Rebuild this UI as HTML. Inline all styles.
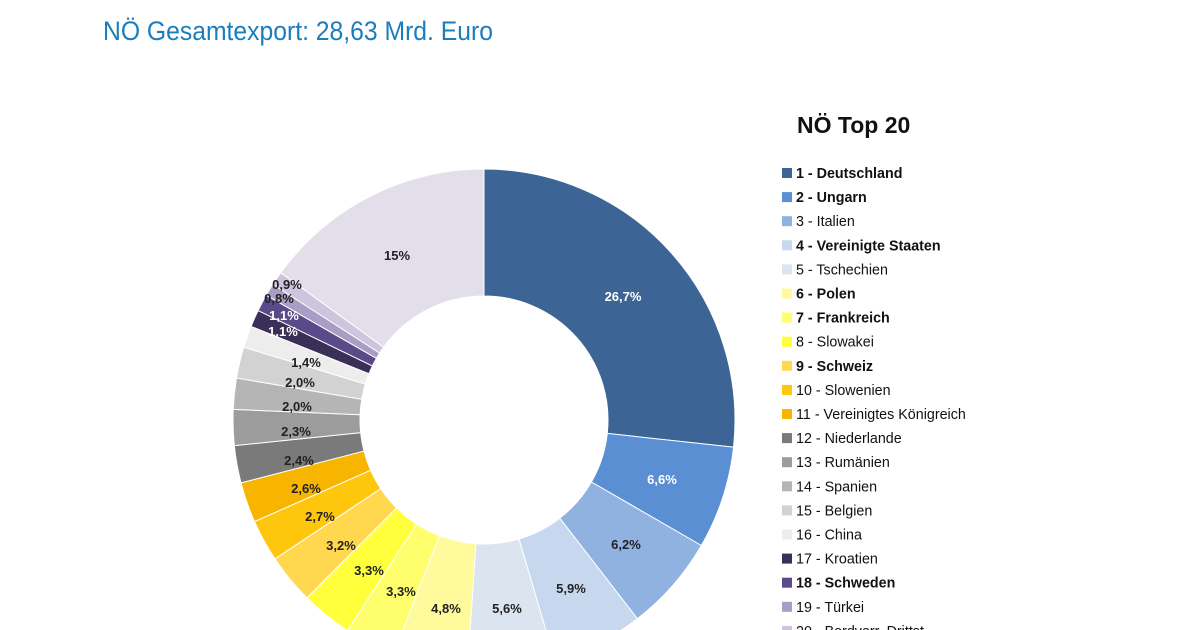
<!DOCTYPE html>
<html><head><meta charset="utf-8"><style>
body{margin:0;background:#fff;width:1200px;height:630px;overflow:hidden;font-family:"Liberation Sans","DejaVu Sans",sans-serif}
#t{position:absolute;left:103px;top:16px;font-size:27px;color:#1b7dbb;transform-origin:0 0;transform:scaleX(0.915);white-space:nowrap}
</style></head><body>
<div id="t">NÖ Gesamtexport: 28,63 Mrd. Euro</div>
<svg id="s" width="1200" height="630" style="position:absolute;left:0;top:0"></svg>
<script>
var vals=[26.7,6.6,6.2,5.9,5.6,4.8,3.3,3.3,3.2,2.7,2.6,2.4,2.3,2.0,2.0,1.4,1.1,1.1,0.8,0.9,15];
var cols=["#3c6494","#5b8fd4","#90b2e1","#c6d7ee","#dce4f0","#fffb9c","#ffff6e","#ffff3c","#ffd84f","#ffc60e","#f7b500","#7a7a7a","#9c9c9c","#b5b5b5","#d2d2d2","#ededed","#3a2f56","#5b4a89","#a99dc5","#cdc5de","#e3dfea"];
var names=[["1 - Deutschland",1],["2 - Ungarn",1],["3 - Italien",0],["4 - Vereinigte Staaten",1],["5 - Tschechien",0],["6 - Polen",1],["7 - Frankreich",1],["8 - Slowakei",0],["9 - Schweiz",1],["10 - Slowenien",0],["11 - Vereinigtes Königreich",0],["12 - Niederlande",0],["13 - Rumänien",0],["14 - Spanien",0],["15 - Belgien",0],["16 - China",0],["17 - Kroatien",0],["18 - Schweden",1],["19 - Türkei",0],["20 - Bordvorr. Drittst.",0]];
var labels=[["26,7%",623,296,1],["6,6%",662,479,1],["6,2%",626,544,0],["5,9%",571,588,0],["5,6%",507,608,0],["4,8%",446,608,0],["3,3%",401,591,0],["3,3%",369,570,0],["3,2%",341,545,0],["2,7%",320,516,0],["2,6%",306,488,0],["2,4%",299,460,0],["2,3%",296,431,0],["2,0%",297,406,0],["2,0%",300,382,0],["1,4%",306,362,0],["1,1%",283,331,1],["1,1%",284,315,1],["0,8%",279,298,0],["0,9%",287,284,0],["15%",397,255,0]];
var cx=484,cy=420,R=251,r=124,s="",a=-Math.PI/2,tot=99.9;
function p(rad,ang){return (cx+rad*Math.cos(ang)).toFixed(2)+","+(cy+rad*Math.sin(ang)).toFixed(2)}
for(var i=0;i<vals.length;i++){var b=a+vals[i]/tot*2*Math.PI;var l=(b-a)>Math.PI?1:0;
s+='<path d="M'+p(R,a)+' A'+R+','+R+' 0 '+l+' 1 '+p(R,b)+' L'+p(r,b)+' A'+r+','+r+' 0 '+l+' 0 '+p(r,a)+'Z" fill="'+cols[i]+'" stroke="#fff" stroke-width="1"/>';a=b;}
labels.forEach(function(t){s+='<text x="'+t[1]+'" y="'+(t[2]+5)+'" text-anchor="middle" font-size="13" font-weight="bold" fill="'+(t[3]?'#fff':'#222')+'">'+t[0]+'</text>';});
s+='<text x="797" y="133" font-size="23" font-weight="bold" fill="#111">NÖ Top 20</text>';
names.forEach(function(n,i){var y=173+i*24.1;s+='<rect x="782" y="'+(y-5)+'" width="10" height="10" fill="'+cols[i]+'"/>';
s+='<text x="796" y="'+(y+5)+'" font-size="14.3" '+(n[1]?'font-weight="bold" ':'')+'fill="#111">'+n[0]+'</text>';});
document.getElementById("s").innerHTML=s;
</script>
</body></html>
